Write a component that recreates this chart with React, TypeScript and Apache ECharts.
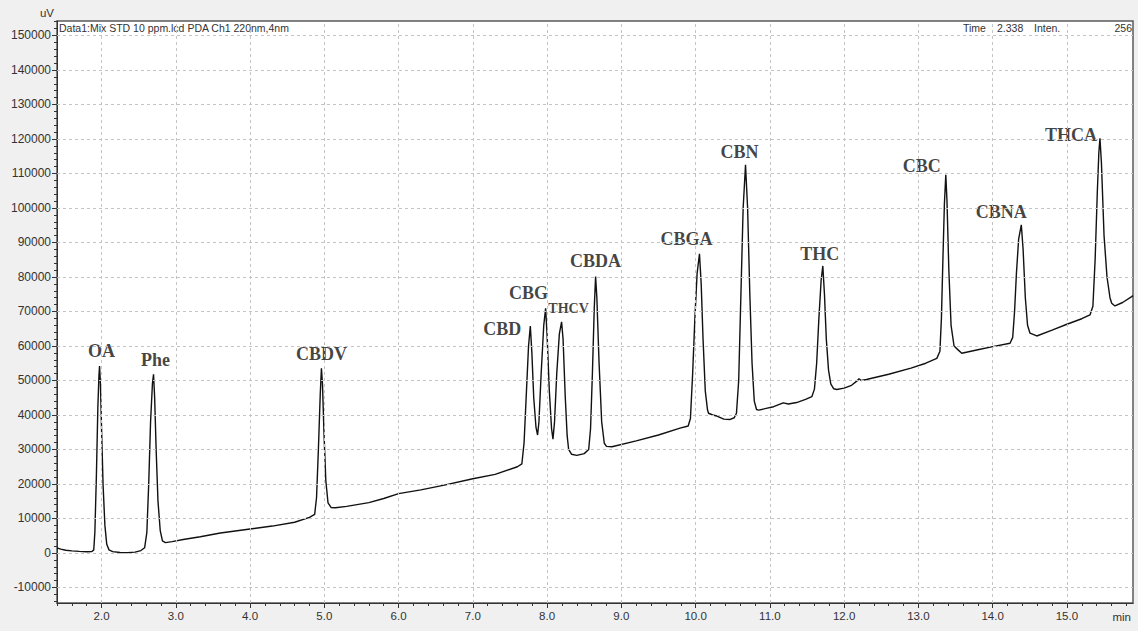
import React, { useEffect, useRef } from "react";
import * as echarts from "echarts";

// Chromatogram trace: [retention time (min), intensity (uV)]
const signal: [number, number][] = [
  [1.4, 1500], [1.45, 1100], [1.52, 800], [1.6, 600], [1.7, 450], [1.8, 350], [1.87, 400], [1.895, 900],
  // OA
  [1.91, 6000], [1.93, 22000], [1.95, 42000], [1.965, 51500], [1.973, 54200], [1.985, 49000], [2.0, 36000],
  [2.02, 20000], [2.045, 8000], [2.07, 2500], [2.1, 900], [2.15, 400], [2.25, 150], [2.35, 100], [2.45, 250],
  [2.53, 700], [2.58, 1500],
  // Phe
  [2.61, 6000], [2.635, 20000], [2.66, 38000], [2.685, 49000], [2.7, 51800], [2.715, 45000], [2.735, 30000],
  [2.76, 15000], [2.79, 6500], [2.82, 3500], [2.86, 3000], [2.95, 3300], [3.1, 3900],
  [3.33, 4700], [3.6, 5800], [4.0, 6950], [4.3, 7800], [4.6, 8900], [4.8, 10300], [4.87, 11200],
  // CBDV
  [4.895, 16000], [4.92, 30000], [4.945, 46000], [4.961, 53500], [4.975, 49000], [4.995, 35000], [5.02, 21000],
  [5.05, 14500], [5.09, 13200], [5.15, 13100], [5.3, 13500], [5.6, 14600], [5.8, 15800], [6.0, 17200],
  [6.3, 18300], [6.6, 19600], [7.0, 21500], [7.3, 22800], [7.6, 25000], [7.66, 25800],
  // CBD
  [7.69, 32000], [7.72, 46000], [7.75, 60000], [7.774, 65800], [7.795, 58000], [7.82, 45000], [7.85, 36500],
  [7.872, 34200],
  // CBG
  [7.89, 38000], [7.92, 52000], [7.955, 66000], [7.98, 70900], [8.0, 63000], [8.03, 47000], [8.06, 36000],
  [8.079, 33000],
  // THCV
  [8.1, 38000], [8.13, 52000], [8.165, 63500], [8.195, 67000], [8.215, 62000], [8.245, 45000], [8.27, 34000],
  [8.29, 30000], [8.33, 28600], [8.4, 28300], [8.5, 28800], [8.56, 30000],
  // CBDA
  [8.585, 36000], [8.61, 52000], [8.635, 71000], [8.653, 80100], [8.67, 74000], [8.7, 55000], [8.735, 38000],
  [8.77, 31800], [8.8, 30900], [8.873, 30800],
  [9.2, 32500], [9.5, 34200], [9.79, 36200], [9.9, 36800],
  // CBGA
  [9.93, 39000], [9.96, 52000], [9.99, 68000], [10.02, 81000], [10.052, 86700], [10.075, 78000], [10.1, 62000],
  [10.13, 47000], [10.16, 41500], [10.174, 40500], [10.23, 40000], [10.287, 39700], [10.38, 38800],
  [10.466, 38700], [10.52, 39200], [10.55, 40500],
  // CBN
  [10.58, 50000], [10.61, 75000], [10.64, 100000], [10.672, 112500], [10.7, 100000], [10.73, 75000],
  [10.76, 55000], [10.79, 44000], [10.82, 41600], [10.85, 41400], [10.95, 41900], [11.05, 42400],
  [11.18, 43500], [11.25, 43200], [11.36, 43600], [11.48, 44500], [11.565, 45300], [11.6, 47500],
  // THC
  [11.63, 55000], [11.66, 68000], [11.69, 79000], [11.713, 83200], [11.735, 75000], [11.76, 62000],
  [11.79, 53000], [11.82, 49000], [11.86, 47600], [11.9, 47400], [12.0, 47800], [12.1, 48600],
  [12.17, 49800], [12.2, 50500], [12.23, 50000], [12.3, 50300], [12.6, 51800], [12.9, 53600], [13.1, 55000],
  [13.248, 56400], [13.29, 58500],
  // CBC
  [13.31, 68000], [13.33, 85000], [13.35, 101000], [13.369, 109600], [13.385, 102000], [13.41, 82000],
  [13.44, 66000], [13.48, 60000], [13.538, 58800], [13.584, 57900], [13.8, 58900], [14.0, 59800],
  [14.234, 60800], [14.27, 62500],
  // CBNA
  [14.295, 70000], [14.32, 81000], [14.35, 91000], [14.386, 95100], [14.41, 88000], [14.44, 74000],
  [14.47, 66000], [14.503, 63700], [14.594, 62900], [14.8, 64600], [15.0, 66300], [15.2, 67900],
  [15.311, 69000], [15.35, 71500],
  // THCA
  [15.38, 85000], [15.41, 105000], [15.43, 116000], [15.445, 120200], [15.465, 113000], [15.5, 92000],
  [15.54, 80000], [15.58, 74000], [15.603, 72400], [15.647, 71600], [15.75, 72600], [15.872, 74300],
  [15.89, 74600],
];

const peakNames = ["OA", "Phe", "CBDV", "CBD", "CBG", "THCV", "CBDA", "CBGA", "CBN", "THC", "CBC", "CBNA", "THCA"];
const peakTimes = [1.973, 2.7, 4.961, 7.774, 7.98, 8.195, 8.653, 10.052, 10.672, 11.713, 13.369, 14.386, 15.445];
const peakHeights = [54200, 51800, 53500, 65800, 70900, 67000, 80100, 86700, 112500, 83200, 109600, 95100, 120200];

const xTickLabels = [2, 3, 4, 5, 6, 7, 8, 9, 10, 11, 12, 13, 14, 15];
const yTickLabels = [
  -10000, 0, 10000, 20000, 30000, 40000, 50000, 60000, 70000, 80000, 90000, 100000, 110000, 120000, 130000,
  140000, 150000,
];

const X_MIN = 1.4;
const X_MAX = 15.89;
const Y_MIN = -14500;
const Y_MAX = 154200;

function steps(start: number, end: number, step: number): number[] {
  const out: number[] = [];
  const n = Math.round((end - start) / step);
  for (let i = 0; i <= n; i++) out.push(Math.round((start + i * step) * 1000) / 1000);
  return out;
}

const minorX = steps(1.4, 15.8, 0.2);
const minorY = steps(-14000, 154000, 2000);

// label placement (px offsets from the peak apex to the label centre)
const labelOffsets: Record<string, [number, number]> = {
  OA: [2, -15],
  Phe: [2, -14],
  CBDV: [0, -14],
  CBD: [-28, 3],
  CBG: [-17, -15],
  THCV: [7, -13],
  CBDA: [0, -16],
  CBGA: [-13, -15],
  CBN: [-6, -13],
  THC: [-3, -12],
  CBC: [-24, -9],
  CBNA: [-20, -13],
  THCA: [-29, -3],
};

const axisFont = '"Liberation Sans", Arial, sans-serif';
const gridLineStyle = { color: "#c4c4c4", type: [3, 3], width: 1 };

function buildOption(): any {
  return {
    animation: false,
    backgroundColor: "#f0f0f0",
    grid: {
      left: 57,
      right: 5,
      top: 21,
      bottom: 28,
      show: true,
      backgroundColor: "#ffffff",
      borderColor: "#5a5a5a",
      borderWidth: 1.5,
    },
    xAxis: [
      {
        type: "value",
        min: X_MIN,
        max: X_MAX,
        position: "bottom",
        name: "min",
        nameLocation: "end",
        nameGap: -2,
        nameTextStyle: {
          align: "right",
          verticalAlign: "top",
          padding: [8, 0, 0, 0],
          fontFamily: axisFont,
          fontSize: 11.5,
          color: "#333",
        },
        axisLine: { show: true, onZero: false, lineStyle: { color: "#333", width: 1 } },
        axisTick: { show: true, customValues: xTickLabels, length: 5, lineStyle: { color: "#333" } },
        axisLabel: {
          customValues: xTickLabels,
          formatter: (v: number) => v.toFixed(1),
          fontFamily: axisFont,
          fontSize: 11.5,
          color: "#333",
          margin: 7,
        },
        splitLine: { show: false },
      },
      {
        type: "value",
        min: X_MIN,
        max: X_MAX,
        position: "bottom",
        axisLine: { show: false, onZero: false },
        axisTick: { show: true, customValues: minorX, length: 3, lineStyle: { color: "#333" } },
        axisLabel: { show: false },
        splitLine: { show: false },
      },
    ],
    yAxis: [
      {
        type: "value",
        min: Y_MIN,
        max: Y_MAX,
        position: "left",
        name: "uV",
        nameLocation: "end",
        nameGap: 2,
        nameTextStyle: {
          align: "right",
          padding: [0, 3, 0, 0],
          fontFamily: axisFont,
          fontSize: 11.5,
          color: "#333",
        },
        axisLine: { show: true, onZero: false, lineStyle: { color: "#333", width: 1 } },
        axisTick: { show: true, customValues: yTickLabels, length: 5, lineStyle: { color: "#333" } },
        axisLabel: {
          customValues: yTickLabels,
          formatter: (v: number) => String(Math.round(v)),
          fontFamily: axisFont,
          fontSize: 12,
          color: "#333",
          margin: 6,
        },
        splitLine: { show: false },
      },
      {
        type: "value",
        min: Y_MIN,
        max: Y_MAX,
        position: "left",
        axisLine: { show: false, onZero: false },
        axisTick: { show: true, customValues: minorY, length: 3, lineStyle: { color: "#333" } },
        axisLabel: { show: false },
        splitLine: { show: false },
      },
    ],
    graphic: [
      {
        type: "text",
        x: 59,
        y: 28,
        style: {
          text: "Data1:Mix STD 10 ppm.lcd PDA Ch1 220nm,4nm",
          font: `10.5px ${axisFont}`,
          fill: "#333",
          verticalAlign: "middle",
          align: "left",
        },
      },
      {
        type: "text",
        x: 963,
        y: 28,
        style: { text: "Time", font: `10.5px ${axisFont}`, fill: "#333", verticalAlign: "middle", align: "left" },
      },
      {
        type: "text",
        x: 997,
        y: 28,
        style: { text: "2.338", font: `10.5px ${axisFont}`, fill: "#333", verticalAlign: "middle", align: "left" },
      },
      {
        type: "text",
        x: 1034,
        y: 28,
        style: { text: "Inten.", font: `10.5px ${axisFont}`, fill: "#333", verticalAlign: "middle", align: "left" },
      },
      {
        type: "text",
        x: 1132,
        y: 28,
        style: { text: "256", font: `10.5px ${axisFont}`, fill: "#333", verticalAlign: "middle", align: "right" },
      },
    ],
    series: [
      {
        type: "scatter",
        name: "peaks",
        xAxisIndex: 0,
        yAxisIndex: 0,
        symbolSize: 0,
        silent: true,
        z: 2,
        data: peakNames.map((n, i) => ({
          name: n,
          value: [peakTimes[i], peakHeights[i]],
          label: {
            show: true,
            position: "inside",
            offset: labelOffsets[n],
            formatter: n,
            fontFamily: '"Liberation Serif", "Times New Roman", serif',
            fontWeight: "bold",
            fontSize: n === "THCV" ? 14 : 18,
            color: "#111111",
            align: "center",
            verticalAlign: "middle",
          },
        })),
        markLine: {
          silent: true,
          symbol: "none",
          animation: false,
          label: { show: false },
          lineStyle: gridLineStyle,
          emphasis: { disabled: true },
          data: [
            ...yTickLabels.map((v) => ({ yAxis: v })),
            ...xTickLabels.map((v) => ({ xAxis: v })),
          ],
        },
      },
      {
        type: "line",
        name: "PDA Ch1 220nm",
        xAxisIndex: 0,
        yAxisIndex: 0,
        data: signal,
        showSymbol: false,
        symbol: "none",
        smooth: false,
        lineStyle: { color: "#111111", width: 1.4 },
        z: 3,
        silent: true,
      },
    ],
  };
}

export default function App() {
  const ref = useRef<HTMLDivElement>(null);
  useEffect(() => {
    if (!ref.current) return;
    const chart = echarts.init(ref.current, null, { renderer: "svg" });
    chart.setOption(buildOption());
    return () => chart.dispose();
  }, []);
  return (
    <div
      ref={ref}
      style={{ position: "fixed", left: 0, top: 0, width: 1138, height: 631, background: "#f0f0f0" }}
    />
  );
}
